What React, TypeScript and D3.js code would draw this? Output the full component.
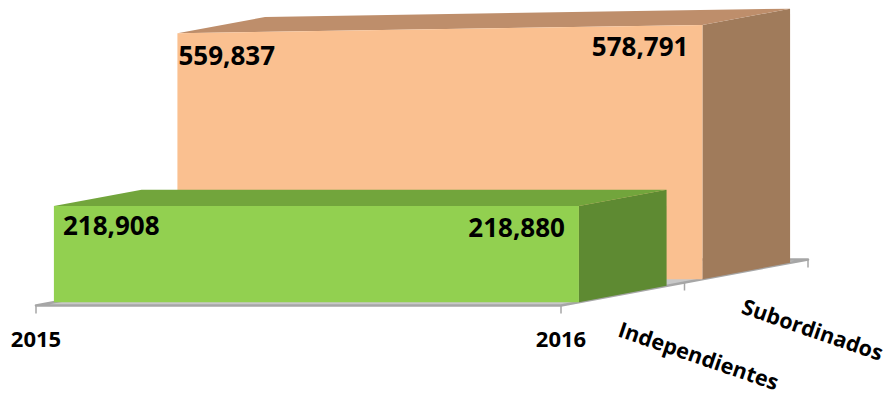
import React from 'react'
import * as d3 from 'd3'

// chart data
const years = ['2015', '2016']
const seriesNames = ['Independientes', 'Subordinados']
const independientes = [218908, 218880]
const subordinados = [559837, 578791]
const seriesValues = [independientes, subordinados]

// face colours per series: front, top, side
const frontColors = ['#92D050', '#FAC090']
const topColors = ['#72A53C', '#BE8E6B']
const sideColors = ['#5E8A32', '#A07B5B']

const W = 890
const H = 400
const origin = { x: 36, y: 305.5 }
const depthVec = { x: 123.5, y: -23 }
const fmt = d3.format(',')

export default function App() {
  const xScale = d3.scalePoint<string>().domain(years).range([0, 525])
  const yScale = d3.scaleLinear().domain([0, 600000]).range([0, 263.5])
  const depth = d3.scaleBand<string>()
    .domain(seriesNames)
    .range([0, seriesNames.length])
    .paddingInner(0.29)
    .paddingOuter(0.145)

  // oblique projection: x along categories, t along series depth, h up
  const proj = (x: number, t: number, h: number): [number, number] => [
    origin.x + x + t * depthVec.x,
    origin.y + t * depthVec.y - h,
  ]
  const pts = (arr: [number, number][]) => arr.map(p => p.join(',')).join(' ')

  const x0 = xScale(years[0])!
  const x1 = xScale(years[1])!
  const nS = seriesNames.length

  const floor = pts([proj(x0, 0, 0), proj(x1, 0, 0), proj(x1, nS, 0), proj(x0, nS, 0)])

  const font = "'Open Sans', 'Liberation Sans', sans-serif"

  // draw back series first
  const order = d3.range(nS).reverse()

  return (
    <svg width={W} height={H} style={{ position: 'absolute', left: 0, top: 0, background: '#fff' }}>
      <polygon points={floor} fill="#C8C8C8" stroke="#A6A6A6" strokeWidth={2.5} strokeLinejoin="round" />
      {years.map(y => {
        const [px, py] = proj(xScale(y)!, 0, 0)
        return <line key={y} x1={px} y1={py} x2={px} y2={py + 8} stroke="#A6A6A6" strokeWidth={1.5} />
      })}
      {d3.range(1, nS + 1).map(i => {
        const [px, py] = proj(x1, i, 0)
        return <line key={'d' + i} x1={px} y1={py} x2={px} y2={py + 8} stroke="#A6A6A6" strokeWidth={1.5} />
      })}
      {order.map(i => {
        const name = seriesNames[i]
        const vals = seriesValues[i]
        const tf = depth(name)!
        const tb = tf + depth.bandwidth()
        const h0 = yScale(vals[0])
        const h1 = yScale(vals[1])
        const front = pts([proj(x0, tf, 0), proj(x1, tf, 0), proj(x1, tf, h1), proj(x0, tf, h0)])
        const top = pts([proj(x0, tf, h0), proj(x1, tf, h1), proj(x1, tb, h1), proj(x0, tb, h0)])
        const side = pts([proj(x1, tf, 0), proj(x1, tb, 0), proj(x1, tb, h1), proj(x1, tf, h1)])
        const [lx0, ly0] = proj(x0, tf, h0)
        const [lx1, ly1] = proj(x1, tf, h1)
        const padLeft = i === 0 ? 9 : 1
        const dyLeft = i === 0 ? 29 : 32
        return (
          <g key={name}>
            <polygon points={side} fill={sideColors[i]} />
            <polygon points={top} fill={topColors[i]} />
            <polygon points={front} fill={frontColors[i]} />
            <text x={lx0 + padLeft} y={ly0 + dyLeft} fontFamily={font} fontWeight={700} fontSize={26} fill="#000">
              {fmt(vals[0])}
            </text>
            <text x={lx1 - 14} y={ly1 + 31} textAnchor="end" fontFamily={font} fontWeight={700} fontSize={26} fill="#000">
              {fmt(vals[1])}
            </text>
          </g>
        )
      })}
      {years.map(y => {
        const [px, py] = proj(xScale(y)!, 0, 0)
        return (
          <text key={y} x={px} y={py + 41.5} textAnchor="middle" fontFamily={font} fontWeight={700} fontSize={22} fill="#000">
            {y}
          </text>
        )
      })}
      {seriesNames.map(name => {
        const t = depth(name)! + depth.bandwidth() / 2
        const [px, py] = proj(x1, t, 0)
        const lx = px - 6
        const ly = py + 42
        return (
          <text key={name} x={lx} y={ly} transform={`rotate(19,${lx},${ly})`} fontFamily={font} fontWeight={700} fontSize={21.5} fill="#000">
            {name}
          </text>
        )
      })}
    </svg>
  )
}
